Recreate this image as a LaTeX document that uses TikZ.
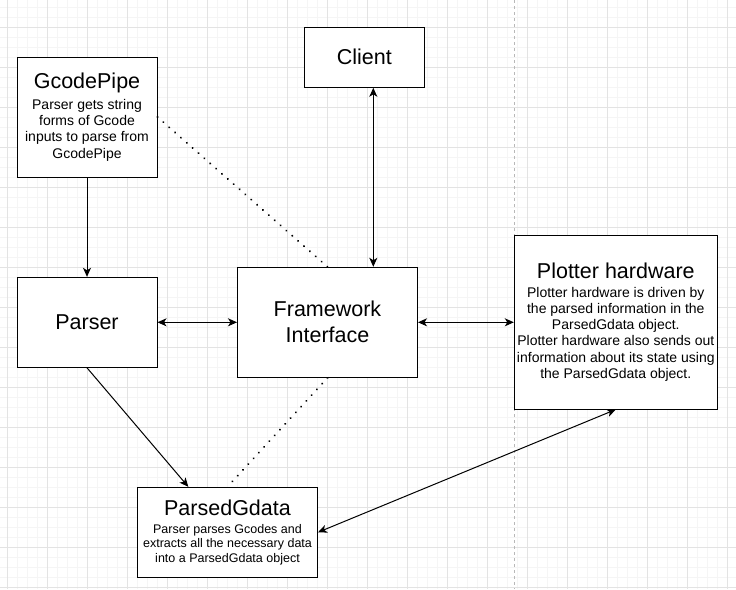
\documentclass[tikz,border=0pt]{standalone}
\usepackage{fontspec}
\setmainfont{Liberation Sans}
\usetikzlibrary{arrows.meta}
\newcommand\ttlf{\fontsize{21.5}{26}\selectfont}
\newcommand\bdyf{\fontsize{14}{16.3}\selectfont}
\newcommand\smlf{\fontsize{12.5}{14.5}\selectfont}
\begin{document}
\begin{tikzpicture}[x=1pt,y=-1pt,
  minorgrid/.style={draw=black!4, line width=0.7pt},
  majorgrid/.style={draw=black!11, line width=1pt},
  pageline/.style={draw=black!28, line width=0.8pt, dash pattern=on 3pt off 3pt},
  box/.style={draw=black, line width=1pt, fill=white, inner sep=0pt, align=center},
  arr/.style={draw=black, line width=1pt, -{Stealth[length=9pt,width=8pt,inset=2.5pt]}},
  arrb/.style={draw=black, line width=1pt, {Stealth[length=9pt,width=8pt,inset=2.5pt]}-{Stealth[length=9pt,width=8pt,inset=2.5pt]}},
  dots/.style={draw=black, line width=2.2pt, line cap=round, dash pattern=on 0.01pt off 7.8pt}
]
\useasboundingbox (0,0) rectangle (736,589);
\fill[white] (0,0) rectangle (736,589);
% grid
\foreach \k in {0,...,72} \draw[minorgrid] ({7+10*\k},0) -- ({7+10*\k},589);
\foreach \k in {0,...,58} \draw[minorgrid] (0,{7+10*\k}) -- (736,{7+10*\k});
\foreach \k in {0,...,18} \draw[majorgrid] ({7+40*\k},0) -- ({7+40*\k},589);
\foreach \k in {0,...,14} \draw[majorgrid] (0,{27+40*\k}) -- (736,{27+40*\k});
\draw[pageline] (514.7,0) -- (514.7,589);

% nodes
\node[box, minimum width=140pt, minimum height=120pt, font=\bdyf] (gp) at (87,117)
  {{\ttlf GcodePipe}\\[4.7pt]Parser gets string\\forms of Gcode\\inputs to parse from\\GcodePipe};
\node[box, minimum width=120pt, minimum height=60pt, font=\ttlf] (client) at (364.3,57.3) {Client};
\node[box, minimum width=140pt, minimum height=90pt, font=\ttlf] (parser) at (87,322.3) {Parser};
\node[box, minimum width=180pt, minimum height=110pt, font=\ttlf] (fw) at (327.5,322.3) {Framework\\Interface};
\node[box, minimum width=203pt, minimum height=174pt, font=\bdyf] (plot) at (615.8,322)
  {{\ttlf Plotter hardware}\\[2.7pt]Plotter hardware is driven by\\the parsed information in the\\ParsedGdata object.\\Plotter hardware also sends out\\information about its state using\\the ParsedGdata object.};
\node[box, minimum width=180pt, minimum height=90pt, font=\smlf] (pg) at (227.5,532.3)
  {{\ttlf ParsedGdata}\\[3.1pt]Parser parses Gcodes and\\extracts all the necessary data\\into a ParsedGdata object};

% helper coordinates
\coordinate (cx) at (373.3,0);
\coordinate (px) at (188.3,0);

% connectors
\draw[arr] (gp) -- (parser);
\draw[arrb] (parser.east) -- (parser.east -| fw.west);
\draw[arrb] (fw.east) -- (fw.east -| plot.west);
\draw[arrb] (client.south -| cx) -- (fw.north -| cx);
\draw[arr] (parser.south) -- (pg.north -| px);
\draw[arrb] (pg.east) -- (plot.south);
\draw[dots] (gp.east) -- (fw.north);
\draw[dots] (fw.south) -- (pg.north);
\end{tikzpicture}
\end{document}
